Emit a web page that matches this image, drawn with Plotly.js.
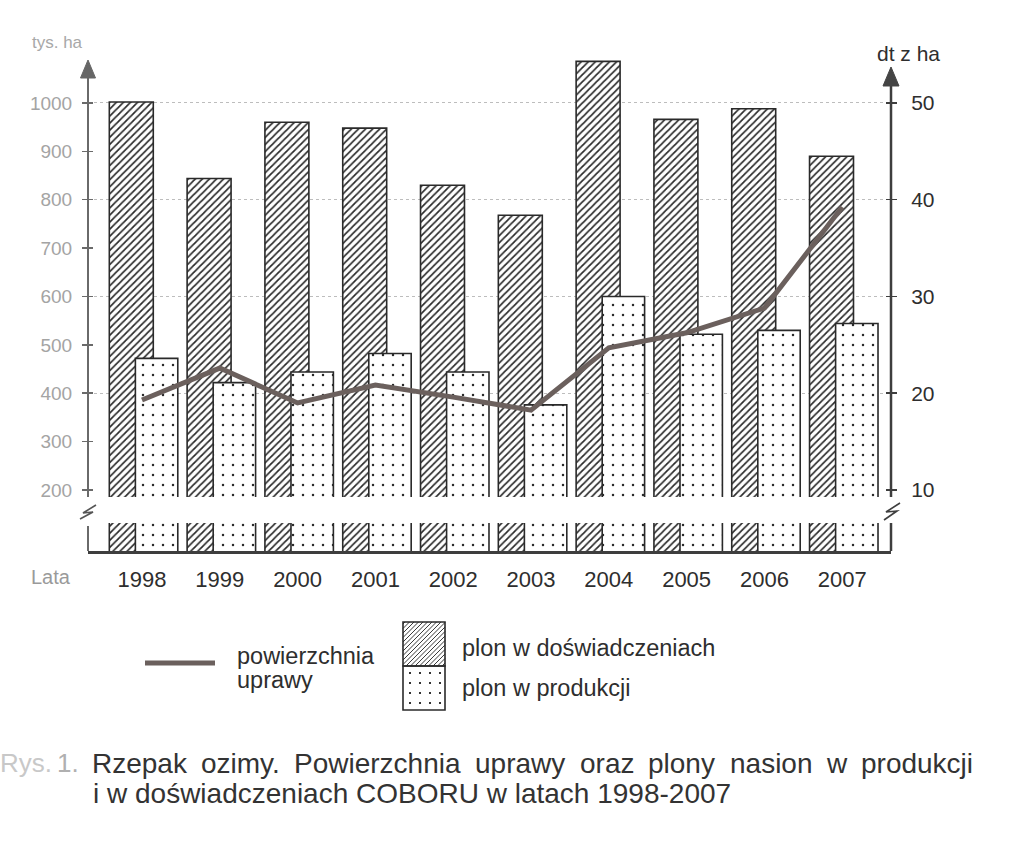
<!DOCTYPE html>
<html>
<head>
<meta charset="utf-8">
<script src="https://cdn.plot.ly/plotly-3.0.1.min.js"></script>
<style>
  html, body { margin: 0; padding: 0; background: #fff; }
  #chart { width: 1024px; height: 864px; }
</style>
</head>
<body>
<div id="chart"></div>
<script>
// ---- data ----
const years = [1998, 1999, 2000, 2001, 2002, 2003, 2004, 2005, 2006, 2007];
const yearLabels = ["1998", "1999", "2000", "2001", "2002", "2003", "2004", "2005", "2006", "2007"];
const powierzchnia = [386, 452, 380, 417, 392, 365, 494, 525, 576, 785];      // tys. ha
const plonDoswiadczenia = [50.1, 42.2, 48.0, 47.4, 41.5, 38.4, 54.3, 48.3, 49.4, 44.5]; // dt z ha
const plonProdukcja = [23.6, 21.1, 22.2, 24.1, 22.2, 18.8, 30.0, 26.1, 26.5, 27.2];      // dt z ha
const leftTicks = [200, 300, 400, 500, 600, 700, 800, 900, 1000];
const rightTicks = [10, 20, 30, 40, 50];
const gridTicks = [20, 30, 40, 50];
const captionLine1 = 'Rzepak ozimy. Powierzchnia uprawy oraz plony nasion w produkcji';
const captionLine2 = 'i w doświadczeniach COBORU w latach 1998-2007';

// ---- layout geometry ----
const L = 88, R = 891, T = 60, B = 551;
const W = R - L, H = B - T;
const px2x = p => (p - L) / W;
const px2y = p => (B - p) / H;
const rRange = [3.695, 54.44];
const lRange = [200 + (rRange[0] - 10) * 20, 200 + (rRange[1] - 10) * 20];
const xRange = [1997.306, 2007.627];
const FONT = '"Liberation Sans", Arial, Helvetica, sans-serif';

const traces = [
  {
    type: 'bar', x: years, y: plonDoswiadczenia, yaxis: 'y', name: 'plon w doświadczeniach',
    offset: -0.42, width: 0.565,
    marker: { color: '#ffffff', line: { color: '#2a2a2a', width: 1.6 },
      pattern: { shape: '/', size: 5, solidity: 0.34, fgcolor: '#2a2a2a', bgcolor: '#ffffff' } },
    showlegend: false, hoverinfo: 'skip'
  },
  {
    type: 'bar', x: years, y: plonProdukcja, yaxis: 'y', name: 'plon w produkcji',
    offset: -0.085, width: 0.545,
    marker: { color: '#ffffff', line: { color: '#2a2a2a', width: 1.6 },
      pattern: { shape: '.', size: 10, solidity: 0.05, fgcolor: '#2a2a2a', bgcolor: '#ffffff' } },
    showlegend: false, hoverinfo: 'skip'
  },
  { type: 'scatter', x: [years[0]], y: [15], yaxis: 'y3', mode: 'markers', marker: { opacity: 0 }, showlegend: false, hoverinfo: 'skip' },
  { type: 'scatter', x: [years[0]], y: [500], yaxis: 'y4', mode: 'markers', marker: { opacity: 0 }, showlegend: false, hoverinfo: 'skip' },
  { type: 'scatter', x: [years[0]], y: [15], yaxis: 'y5', mode: 'markers', marker: { opacity: 0 }, showlegend: false, hoverinfo: 'skip' },
  {
    type: 'scatter', mode: 'lines', x: years, y: powierzchnia, yaxis: 'y2', name: 'powierzchnia uprawy',
    line: { color: '#6b605d', width: 5 }, showlegend: false, hoverinfo: 'skip'
  }
];

// ---- decorative shapes ----
const shapes = [];
function seg(x0, y0, x1, y1, color, width) {
  shapes.push({ type: 'line', xref: 'paper', yref: 'paper', x0: px2x(x0), y0: px2y(y0), x1: px2x(x1), y1: px2y(y1),
    line: { color: color, width: width }, layer: 'above' });
}
function pathPx(points, close) {
  return points.map((p, i) => (i ? 'L' : 'M') + px2x(p[0]).toFixed(5) + ',' + px2y(p[1]).toFixed(5)).join(' ') + (close ? ' Z' : '');
}
// white band for the axis break
shapes.push({ type: 'rect', xref: 'paper', yref: 'paper', x0: -0.02, x1: 1.02, y0: px2y(523), y1: px2y(497),
  fillcolor: '#ffffff', line: { width: 0 }, layer: 'above' });
// axis lines
seg(L, 76, L, 497, '#6a6a6a', 2);
seg(L, 526, L, B, '#6a6a6a', 2);
seg(R, 85, R, 497, '#3e3e3e', 2.5);
seg(R, 523, R, B, '#3e3e3e', 2.5);
// arrows
shapes.push({ type: 'path', xref: 'paper', yref: 'paper', path: pathPx([[L, 60], [L - 7.5, 78], [L + 7.5, 78]], true),
  fillcolor: '#666666', line: { color: '#666666', width: 1 }, layer: 'above' });
shapes.push({ type: 'path', xref: 'paper', yref: 'paper', path: pathPx([[R, 67], [R - 8, 86], [R + 8, 86]], true),
  fillcolor: '#444444', line: { color: '#444444', width: 1 }, layer: 'above' });
// break zigzags
shapes.push({ type: 'path', xref: 'paper', yref: 'paper', path: pathPx([[96, 505], [83, 513], [93, 512], [80, 519]], false),
  line: { color: '#555555', width: 1.6 }, layer: 'above' });
shapes.push({ type: 'path', xref: 'paper', yref: 'paper', path: pathPx([[900, 503], [886, 512], [897, 511], [884, 520]], false),
  line: { color: '#3e3e3e', width: 1.6 }, layer: 'above' });

// legend: line sample
seg(145, 663, 215, 663, '#6b605d', 5);
// legend: hatched box
const hb = { x0: 403, y0: 622, x1: 445, y1: 666 };
let hpath = [];
for (let c = hb.x0 + hb.y0 + 2; c < hb.x1 + hb.y1; c += 4.5) {
  const xa = Math.max(hb.x0, c - hb.y1), xb = Math.min(hb.x1, c - hb.y0);
  if (xb > xa) hpath.push(pathPx([[xa, c - xa], [xb, c - xb]], false));
}
shapes.push({ type: 'path', xref: 'paper', yref: 'paper', path: hpath.join(' '), line: { color: '#3a3a3a', width: 1 }, layer: 'above' });
shapes.push({ type: 'rect', xref: 'paper', yref: 'paper', x0: px2x(hb.x0), x1: px2x(hb.x1), y0: px2y(hb.y1), y1: px2y(hb.y0),
  line: { color: '#2a2a2a', width: 1.6 }, layer: 'above' });
// legend: dotted box
const db = { x0: 403, y0: 666, x1: 445, y1: 710 };
let dpath = [];
for (let yy = db.y0 + 6; yy < db.y1 - 2; yy += 10) {
  for (let xx = db.x0 + 6; xx < db.x1 - 2; xx += 10) {
    dpath.push(pathPx([[xx, yy], [xx + 2, yy], [xx + 2, yy + 2], [xx, yy + 2]], true));
  }
}
shapes.push({ type: 'path', xref: 'paper', yref: 'paper', path: dpath.join(' '), fillcolor: '#333333', line: { width: 0 }, layer: 'above' });
shapes.push({ type: 'rect', xref: 'paper', yref: 'paper', x0: px2x(db.x0), x1: px2x(db.x1), y0: px2y(db.y1), y1: px2y(db.y0),
  line: { color: '#2a2a2a', width: 1.6 }, layer: 'above' });

// ---- annotations ----
function note(text, xpx, ypx, size, color, xanchor) {
  return { text: text, xref: 'paper', yref: 'paper', x: px2x(xpx), y: px2y(ypx), xanchor: xanchor || 'left', yanchor: 'middle',
    showarrow: false, font: { family: FONT, size: size, color: color } };
}
const annotations = [
  note('tys. ha', 30, 42, 17, '#a8a8a8'),
  note('dt z ha', 908, 53, 21, '#2e2e2e', 'center'),
  note('Lata', 29, 577, 20, '#9a9a9a'),
  note('powierzchnia', 235, 656, 23.5, '#2e2e2e'),
  note('uprawy', 235, 680, 23.5, '#2e2e2e'),
  note('plon w doświadczeniach', 460, 648, 23.5, '#2e2e2e'),
  note('plon w produkcji', 460, 688, 23.5, '#2e2e2e'),
  note('Rys.', -2, 763, 26, '#c8c8c8'),
  note('1.', 55, 763, 26, '#b0b0b0'),
  note(captionLine2, 91, 793, 28, '#333333')
];

// justified first caption line (words spread between x=91 and x=972)
(function () {
  const capSize = 28;
  const ctx = document.createElement('canvas').getContext('2d');
  ctx.font = capSize + 'px "Liberation Sans", Arial, sans-serif';
  const words = captionLine1.split(' ');
  const widths = words.map(w => ctx.measureText(w).width);
  const total = widths.reduce((a, b) => a + b, 0);
  const x0 = 91, x1 = 972;
  const gap = (x1 - x0 - total) / (words.length - 1);
  let x = x0;
  words.forEach((w, i) => {
    annotations.push(note(w, x - 1, 763, capSize, '#333333'));
    x += widths[i] + gap;
  });
})();

const layout = {
  width: 1024, height: 864,
  margin: { l: L, r: 1024 - R, t: T, b: 864 - B, pad: 0 },
  paper_bgcolor: '#ffffff', plot_bgcolor: '#ffffff',
  barmode: 'overlay',
  showlegend: false,
  font: { family: FONT, color: '#333333' },
  xaxis: {
    range: xRange, tickvals: years, ticktext: yearLabels, ticks: '',
    tickfont: { family: FONT, size: 22, color: '#2e2e2e' }, ticklabelstandoff: 7,
    showline: true, linecolor: '#3e3e3e', linewidth: 2.5, showgrid: false, zeroline: false, fixedrange: true
  },
  yaxis: {
    range: rRange, side: 'right', tickvals: rightTicks, ticktext: rightTicks.map(String),
    ticks: 'outside', ticklen: 5, tickwidth: 1.5, tickcolor: '#3e3e3e',
    tickfont: { family: FONT, size: 21, color: '#2e2e2e' }, ticklabelstandoff: 10,
    showline: false, showgrid: false, zeroline: false, fixedrange: true
  },
  yaxis2: {
    range: lRange, overlaying: 'y', side: 'left', tickvals: leftTicks, ticktext: leftTicks.map(String),
    ticks: 'outside', ticklen: 5, tickwidth: 1.5, tickcolor: '#6a6a6a',
    tickfont: { family: FONT, size: 19, color: '#a4a4a4' }, ticklabelstandoff: 6,
    showline: false, showgrid: false, zeroline: false, fixedrange: true
  },
  yaxis3: {
    range: rRange, overlaying: 'y', side: 'right', tickvals: rightTicks, showticklabels: false,
    ticks: 'inside', ticklen: 5, tickwidth: 1.5, tickcolor: '#3e3e3e',
    showline: false, showgrid: false, zeroline: false, fixedrange: true
  },
  yaxis4: {
    range: lRange, overlaying: 'y', side: 'left', tickvals: leftTicks, showticklabels: false,
    ticks: 'inside', ticklen: 5, tickwidth: 1.5, tickcolor: '#6a6a6a',
    showline: false, showgrid: false, zeroline: false, fixedrange: true
  },
  yaxis5: {
    range: rRange, overlaying: 'y', side: 'right', tickvals: gridTicks, showticklabels: false, ticks: '',
    showgrid: true, gridcolor: '#bdbdbd', gridwidth: 1, griddash: 'dot',
    showline: false, zeroline: false, fixedrange: true
  },
  shapes: shapes,
  annotations: annotations
};

Plotly.newPlot('chart', traces, layout, { staticPlot: true, displayModeBar: false });
</script>
</body>
</html>
